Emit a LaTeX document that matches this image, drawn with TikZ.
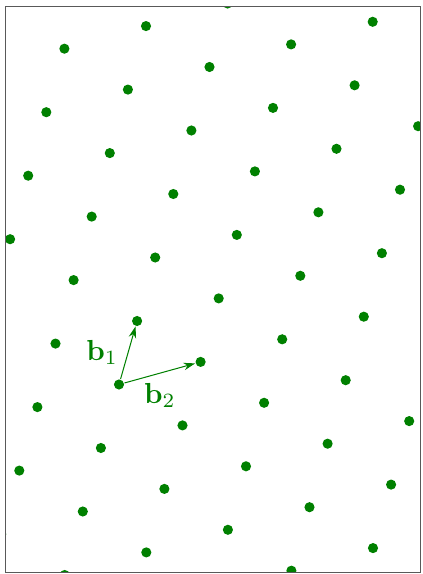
\documentclass[tikz,border=0pt]{standalone}
\usepackage{amsmath}
\usepackage{xcolor}
\usetikzlibrary{arrows.meta,positioning}
\definecolor{latgreen}{RGB}{0,128,0}

\begin{document}
\begin{tikzpicture}[
    x=0.345pt, y=0.345pt,
    latpt/.style={circle, fill=latgreen, inner sep=0pt, minimum size=3.5pt},
    basis/.style={-{Stealth[length=4pt,width=2.6pt]}, latgreen, line width=0.35pt},
    lbl/.style={text=latgreen, font=\normalsize},
    frame/.style={draw=black!65, line width=0.5pt},
]
    \useasboundingbox (0,0) rectangle (422,574);
    \begin{scope}
        \clip (5.5,1.5) rectangle (420.5,567.5);
        \foreach \i in {-9,...,10}
            \foreach \j in {-5,...,6}
                \node[latpt] (p\i_\j) at ({119+18.1*\i+81.6*\j},{189.5+63.5*\i+22.6*\j}) {};
    \end{scope}

    \draw[basis] (p0_0) -- (p1_0);
    \draw[basis] (p0_0) -- (p0_1);
    \path (p0_0) -- (p1_0) node[lbl, midway, left=0pt] (lblb1) {$\mathbf{b}_1$};
    \path (p0_0) -- (p0_1) node[lbl, midway, below=0pt] (lblb2) {$\mathbf{b}_2$};

    \draw[frame] (5.5,1.5) rectangle (420.5,567.5);
\end{tikzpicture}
\end{document}
